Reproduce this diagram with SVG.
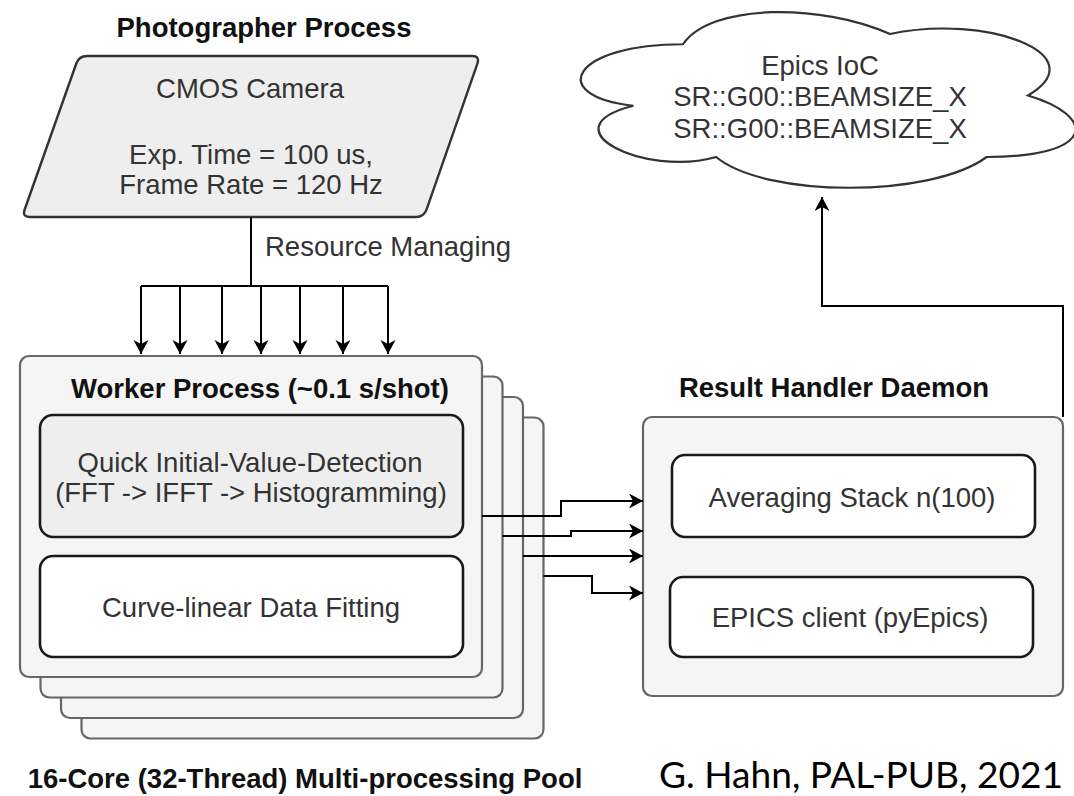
<svg xmlns="http://www.w3.org/2000/svg" width="1074" height="796" viewBox="0 0 1074 796">
<defs>
<marker id="arr" markerUnits="userSpaceOnUse" markerWidth="16" markerHeight="16" refX="14" refY="7.5" orient="auto">
<path d="M0,0 L14,7.5 L0,15 L4,7.5 Z" fill="#000"/>
</marker>
<style>
.t{font-family:"Liberation Sans",Arial,sans-serif;font-size:27.5px;fill:#333;text-anchor:middle}
.b{font-family:"Liberation Sans",Arial,sans-serif;font-size:27.5px;font-weight:bold;fill:#111;text-anchor:middle}
.cont{fill:#f5f5f5;stroke:#666;stroke-width:2.2}
.inner{stroke:#1a1a1a;stroke-width:2.6}
.ln{fill:none;stroke:#000;stroke-width:2}
</style>
</defs>
<rect width="1074" height="796" fill="#fff"/>

<g id="photographer">
<text class="b" x="264" y="37">Photographer Process</text>
<path d="M87,56 L472,56 Q480,56 477.4,63.6 L426.6,209.4 Q424,217 416,217 L30,217 Q22,217 24.7,209.5 L76.3,63.5 Q79,56 87,56 Z" fill="#eeeeee" stroke="#333" stroke-width="2.4"/>
<text class="t" x="250" y="98">CMOS Camera</text>
<text class="t" x="251" y="164">Exp. Time = 100 us,</text>
<text class="t" x="251" y="194">Frame Rate = 120 Hz</text>
</g>

<g id="cloud">
<path d="M683,44.25 C572.6,44.25 545,95.5 633.3,105.75 C545,128.3 644.4,177.5 716.1,157 C765.8,198 931.4,198 986.6,157 C1097,157 1097,116 1028,95.5 C1097,54.5 986.6,13.5 890,34 C821,3.25 710.6,3.25 683,44.25 Z" fill="#fff" stroke="#333" stroke-width="2.2"/>
<text class="t" x="820" y="75">Epics IoC</text>
<text class="t" x="820" y="106">SR::G00::BEAMSIZE_X</text>
<text class="t" x="820" y="138">SR::G00::BEAMSIZE_X</text>
</g>

<g id="workers">
<rect class="cont" x="81.5" y="417.5" width="462" height="321" rx="9"/>
<rect class="cont" x="61" y="397" width="462" height="321" rx="9"/>
<rect class="cont" x="40.5" y="376.5" width="462" height="321" rx="9"/>
<rect class="cont" x="20" y="356" width="462" height="321" rx="9"/>
<text class="b" x="260" y="398">Worker Process (~0.1 s/shot)</text>
<g id="quick">
<rect class="inner" x="40" y="415" width="423" height="122" rx="13" fill="#eeeeee"/>
<text class="t" x="250" y="472">Quick Initial-Value-Detection</text>
<text class="t" x="251" y="502">(FFT -&gt; IFFT -&gt; Histogramming)</text>
</g>
<g id="fitting">
<rect class="inner" x="40" y="556" width="423" height="101" rx="13" fill="#fff"/>
<text class="t" x="251" y="617">Curve-linear Data Fitting</text>
</g>
<text class="b" x="305" y="788">16-Core (32-Thread) Multi-processing Pool</text>
</g>

<g id="result">
<text class="b" x="834" y="397">Result Handler Daemon</text>
<rect class="cont" x="643" y="417" width="420" height="279" rx="9"/>
<g id="averaging">
<rect class="inner" x="672" y="455" width="363" height="82" rx="13" fill="#fff"/>
<text class="t" x="852" y="507">Averaging Stack n(100)</text>
</g>
<g id="epics">
<rect class="inner" x="670" y="577" width="363" height="80" rx="13" fill="#fff"/>
<text class="t" x="850" y="627">EPICS client (pyEpics)</text>
</g>
</g>

<g id="connectors">
<path class="ln" d="M251,217 V286 M141,286 H388"/>
<path class="ln" d="M141,286 V354" marker-end="url(#arr)"/>
<path class="ln" d="M180,286 V354" marker-end="url(#arr)"/>
<path class="ln" d="M222,286 V354" marker-end="url(#arr)"/>
<path class="ln" d="M261,286 V354" marker-end="url(#arr)"/>
<path class="ln" d="M300,286 V354" marker-end="url(#arr)"/>
<path class="ln" d="M343,286 V354" marker-end="url(#arr)"/>
<path class="ln" d="M388,286 V354" marker-end="url(#arr)"/>
<text x="265" y="256" style="font-family:'Liberation Sans',Arial,sans-serif;font-size:27.5px;fill:#333">Resource Managing</text>
<path class="ln" d="M482,516 H561 V501 H643" marker-end="url(#arr)"/>
<path class="ln" d="M502.5,536 H571 V531 H643" marker-end="url(#arr)"/>
<path class="ln" d="M523,556 H643" marker-end="url(#arr)"/>
<path class="ln" d="M543.5,576 H592 V593 H643" marker-end="url(#arr)"/>
<path class="ln" d="M1063,417 V306 H822 V197" marker-end="url(#arr)"/>
</g>

<text x="659" y="788" textLength="404" lengthAdjust="spacingAndGlyphs" style="font-family:Lato,'Liberation Sans',sans-serif;font-size:37px;fill:#000">G. Hahn, PAL-PUB, 2021</text>
</svg>
